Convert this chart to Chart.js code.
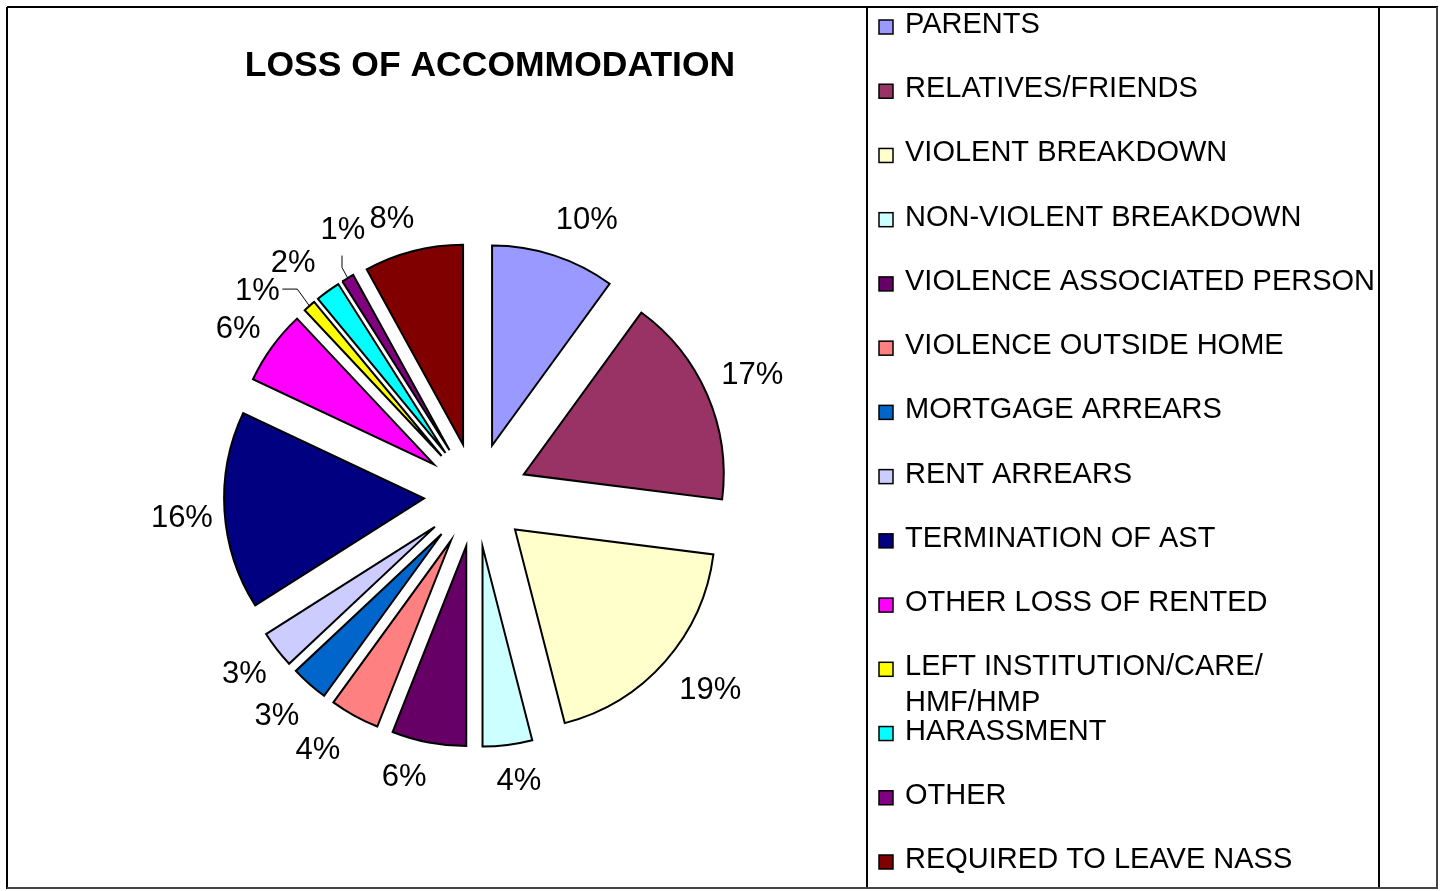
<!DOCTYPE html>
<html>
<head>
<meta charset="utf-8">
<title>Loss of accommodation</title>
<script src="https://cdn.jsdelivr.net/npm/chart.js@4.4.1/dist/chart.umd.min.js"></script>
<style>
  html, body { margin: 0; padding: 0; background: #fff; }
  #wrap { width: 1446px; height: 891px; }
</style>
</head>
<body>
<div id="wrap"><canvas id="pieChart" width="1446" height="891"></canvas></div>
<script>
// Chart data
const chartTitle = 'LOSS OF ACCOMMODATION';
const categories = ['PARENTS', 'RELATIVES/FRIENDS', 'VIOLENT BREAKDOWN', 'NON-VIOLENT BREAKDOWN',
  'VIOLENCE ASSOCIATED PERSON', 'VIOLENCE OUTSIDE HOME', 'MORTGAGE ARREARS', 'RENT ARREARS',
  'TERMINATION OF AST', 'OTHER LOSS OF RENTED', ['LEFT INSTITUTION/CARE/', 'HMF/HMP'],
  'HARASSMENT', 'OTHER', 'REQUIRED TO LEAVE NASS'];
const shares = [10, 17, 19, 4, 6, 4, 3, 3, 16, 6, 1, 2, 1, 8];
const sliceColors = ['#9999FF', '#993366', '#FFFFCC', '#CCFFFF', '#660066', '#FF8080', '#0066CC',
  '#CCCCFF', '#000080', '#FF00FF', '#FFFF00', '#00FFFF', '#800080', '#800000'];

const FONT = '"Liberation Sans", Arial, sans-serif';
const PIE_RADIUS = 200;
const EXPLODE = 52; // how far every slice is pulled out, px

// Excel nudged some labels around the ring, these are the tweaks (deg, px)
const labelNudge = [4, 0, -1.6, -1.3, 3.5, 3, 0.5, 0, -0.9, -1.1, -5.6, -2.3, 3.9, -2.6];
const labelDist = [296, 301, 305, 290, 291, 300, 298, 293, 295, 290, 299, 295, 296, 288];

function pieCenter(chart) {
  const a = chart.chartArea;
  return { x: (a.left + a.right) / 2, y: (a.top + a.bottom) / 2 };
}

// Frame lines + title
const framePlugin = {
  id: 'frame',
  beforeDraw(chart) {
    const c = chart.ctx;
    c.save();
    c.fillStyle = '#fff';
    c.fillRect(0, 0, chart.width, chart.height);
    c.strokeStyle = '#000';
    c.lineWidth = 2;
    c.beginPath();
    c.moveTo(7, 7); c.lineTo(1438, 7);
    c.moveTo(7, 7); c.lineTo(7, 889);
    c.moveTo(867, 7); c.lineTo(867, 889);
    c.moveTo(1379, 7); c.lineTo(1379, 889);
    c.stroke();
    c.strokeStyle = '#444';
    c.beginPath();
    c.moveTo(7, 888); c.lineTo(1438, 888);
    c.moveTo(1437, 7); c.lineTo(1437, 889);
    c.stroke();
    c.fillStyle = '#000';
    c.font = 'bold 35.5px ' + FONT;
    c.textAlign = 'center';
    c.textBaseline = 'middle';
    c.fillText(chartTitle, 490, 66);
    c.restore();
  }
};

// Exploded pie: push each arc's centre out along its mid angle
// (Chart.js' own offset also widens/narrows thin slices, Excel doesn't)
const explode = {
  id: 'explode',
  beforeDatasetsDraw(chart) {
    const ctr = pieCenter(chart);
    chart.getDatasetMeta(0).data.forEach(arc => {
      const mid = (arc.startAngle + arc.endAngle) / 2;
      arc.x = ctr.x + Math.cos(mid) * EXPLODE;
      arc.y = ctr.y + Math.sin(mid) * EXPLODE;
    });
  }
};

// Percentage labels with the two leader lines
const pctLabels = {
  id: 'pctLabels',
  afterDatasetsDraw(chart) {
    const c = chart.ctx;
    const ctr = pieCenter(chart);
    const values = chart.data.datasets[0].data;
    c.save();
    c.font = '31px ' + FONT;
    c.fillStyle = '#000';
    c.textAlign = 'center';
    c.textBaseline = 'middle';
    chart.getDatasetMeta(0).data.forEach((arc, i) => {
      const mid = (arc.startAngle + arc.endAngle) / 2;
      const a = mid + labelNudge[i] * Math.PI / 180;
      const lx = ctr.x + Math.cos(a) * labelDist[i];
      const ly = ctr.y + Math.sin(a) * labelDist[i];
      c.fillText(values[i] + '%', lx, ly);

      const tipX = ctr.x + Math.cos(mid) * (PIE_RADIUS + EXPLODE - 1);
      const tipY = ctr.y + Math.sin(mid) * (PIE_RADIUS + EXPLODE - 1);
      c.strokeStyle = '#000';
      c.lineWidth = 1;
      if (i === 10) {
        c.beginPath();
        c.moveTo(lx + 25, ly - 2);
        c.lineTo(lx + 40, ly - 2);
        c.lineTo(tipX, tipY);
        c.stroke();
      } else if (i === 12) {
        c.beginPath();
        c.moveTo(lx - 1, ly + 25);
        c.lineTo(lx - 1, ly + 37);
        c.lineTo(tipX, tipY);
        c.stroke();
      }
    });
    c.restore();
  }
};

// Legend in the right hand column
const sideLegend = {
  id: 'sideLegend',
  afterDraw(chart) {
    const c = chart.ctx;
    const ds = chart.data.datasets[0];
    const step = (860 - 25) / (chart.data.labels.length - 1);
    c.save();
    c.font = '29px ' + FONT;
    c.textAlign = 'left';
    c.textBaseline = 'middle';
    chart.data.labels.forEach((label, i) => {
      const y = 25 + i * step;
      c.fillStyle = ds.backgroundColor[i];
      c.fillRect(879, y - 5, 14, 14);
      c.strokeStyle = '#000';
      c.lineWidth = 1.5;
      c.strokeRect(879, y - 5, 14, 14);
      c.fillStyle = '#000';
      const lines = Array.isArray(label) ? label : [label];
      lines.forEach((t, k) => c.fillText(t, 905, y + k * 36));
    });
    c.restore();
  }
};

const ctx = document.getElementById('pieChart').getContext('2d');
new Chart(ctx, {
  type: 'pie',
  data: {
    labels: categories,
    datasets: [{
      data: shares,
      backgroundColor: sliceColors,
      borderColor: '#000',
      borderWidth: 2,
      borderJoinStyle: 'miter',
      offset: 0,
      radius: PIE_RADIUS
    }]
  },
  options: {
    responsive: false,
    animation: false,
    events: [],
    layout: { padding: { left: 100, right: 594, top: 190, bottom: 91 } },
    plugins: {
      legend: { display: false },
      tooltip: { enabled: false },
      title: { display: false }
    }
  },
  plugins: [framePlugin, explode, pctLabels, sideLegend]
});
</script>
</body>
</html>
